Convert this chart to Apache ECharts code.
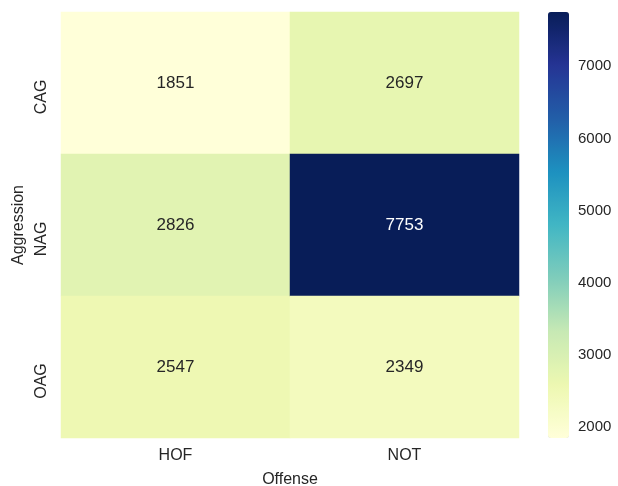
<!DOCTYPE html>
<html><head><meta charset="utf-8">
<script src="https://cdn.jsdelivr.net/npm/echarts@6/dist/echarts.min.js"></script>
<style>html,body{margin:0;padding:0;background:#fff}#c{width:618px;height:486px}</style>
</head><body><div id="c"></div>
<script>
const offense = ['HOF', 'NOT'];
const aggression = ['CAG', 'NAG', 'OAG'];
const hofValues = [1851, 2826, 2547];
const notValues = [2697, 7753, 2349];
const colorTicks = [2000, 3000, 4000, 5000, 6000, 7000];
const ylgnbu = ['#ffffd9','#edf8b1','#c7e9b4','#7fcdbb','#41b6c4','#1d91c0','#225ea8','#253494','#081d58'];

const all = hofValues.concat(notValues);
const vmin = Math.min(...all), vmax = Math.max(...all);
const cols = [hofValues, notValues];
const data = [];
cols.forEach((arr, xi) => arr.forEach((v, yi) => {
  const frac = (v - vmin) / (vmax - vmin);
  data.push({value: [xi, yi, v], label: {color: frac > 0.6 ? '#ffffff' : '#262626'}});
}));

const font = 'Liberation Sans, Arial, sans-serif';
const chart = echarts.init(document.getElementById('c'));
chart.setOption({
  animation: false,
  backgroundColor: '#ffffff',
  grid: [
    {left: 61, top: 12, right: 99, bottom: 48, outerBoundsMode: 'none', containLabel: false},
    {left: 548, top: 12, width: 21, bottom: 48, outerBoundsMode: 'none', containLabel: false}
  ],
  xAxis: [
    {type: 'category', data: offense, gridIndex: 0,
     axisLine: {show: false}, axisTick: {show: false}, splitLine: {show: false},
     axisLabel: {color: '#262626', fontSize: 16, fontFamily: font, margin: 10},
     name: 'Offense', nameLocation: 'middle', nameGap: 34,
     nameTextStyle: {color: '#262626', fontSize: 16, fontFamily: font}},
    {type: 'value', gridIndex: 1, show: false, min: 0, max: 1}
  ],
  yAxis: [
    {type: 'category', data: aggression, gridIndex: 0, inverse: true,
     axisLine: {show: false}, axisTick: {show: false}, splitLine: {show: false},
     axisLabel: {color: '#262626', fontSize: 16, fontFamily: font, rotate: 90, margin: 11,
       padding: [0, 28, 0, 0]},
     name: 'Aggression', nameLocation: 'middle', nameGap: 33, nameRotate: 90,
     nameTextStyle: {color: '#262626', fontSize: 16, fontFamily: font}},
    {type: 'value', gridIndex: 1, position: 'right', min: vmin, max: vmax,
     axisLine: {show: false}, axisTick: {show: false}, splitLine: {show: false},
     axisLabel: {color: '#262626', fontSize: 15, fontFamily: font, margin: 9,
       customValues: colorTicks, formatter: v => String(v)}}
  ],
  visualMap: {
    type: 'continuous', min: vmin, max: vmax, calculable: false, seriesIndex: 0,
    orient: 'vertical', left: 548, top: 12, itemWidth: 21, itemHeight: 426,
    padding: 0, text: null, showLabel: false,
    inRange: {color: ylgnbu}
  },
  series: [
    {type: 'heatmap', xAxisIndex: 0, yAxisIndex: 0, data: data,
     itemStyle: {borderWidth: 0},
     label: {show: true, fontSize: 17, fontFamily: font, formatter: p => p.value[2]},
     emphasis: {disabled: true}},
    {type: 'scatter', xAxisIndex: 1, yAxisIndex: 1, data: [], silent: true}
  ]
});
</script></body></html>
